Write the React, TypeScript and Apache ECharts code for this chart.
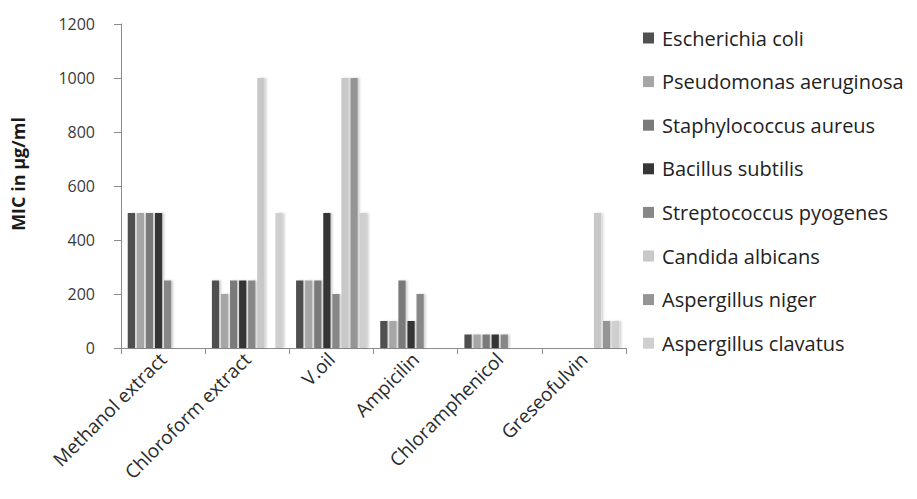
import React, { useEffect, useRef } from "react";
import * as echarts from "echarts";

const categories = [
  "Methanol extract",
  "Chloroform extract",
  "V.oil",
  "Ampicilin",
  "Chloramphenicol",
  "Greseofulvin",
];

const seriesNames = [
  "Escherichia coli",
  "Pseudomonas aeruginosa",
  "Staphylococcus aureus",
  "Bacillus subtilis",
  "Streptococcus pyogenes",
  "Candida albicans",
  "Aspergillus niger",
  "Aspergillus clavatus",
];

const eColi = [500, 250, 250, 100, 50, 0];
const pseudomonas = [500, 200, 250, 100, 50, 0];
const staphylococcus = [500, 250, 250, 250, 50, 0];
const bacillus = [500, 250, 500, 100, 50, 0];
const streptococcus = [250, 250, 200, 200, 50, 0];
const candida = [0, 1000, 1000, 0, 0, 500];
const aspNiger = [0, 0, 1000, 0, 0, 100];
const aspClavatus = [0, 500, 500, 0, 0, 100];

const seriesValues = [
  eColi,
  pseudomonas,
  staphylococcus,
  bacillus,
  streptococcus,
  candida,
  aspNiger,
  aspClavatus,
];

const colors = [
  "#505050",
  "#a6a6a6",
  "#7a7a7a",
  "#363636",
  "#878787",
  "#c8c8c8",
  "#959595",
  "#cfcfcf",
];

const yTicks = { min: 0, max: 1200, interval: 200 };
const yAxisTitle = "MIC in µg/ml";

export default function App() {
  const ref = useRef<HTMLDivElement>(null);

  useEffect(() => {
    if (!ref.current) return;
    const chart = echarts.init(ref.current, undefined, { renderer: "svg" });
    const font = "'Open Sans', 'Noto Sans', sans-serif";
    chart.setOption({
      animation: false,
      backgroundColor: "#ffffff",
      textStyle: { fontFamily: font },
      grid: { left: 121, top: 24, right: 291, bottom: 151, containLabel: false },
      legend: {
        orient: "vertical",
        left: 643,
        top: 28,
        padding: 0,
        itemWidth: 11,
        itemHeight: 11,
        itemGap: 23.6,
        icon: "rect",
        data: seriesNames,
        textStyle: {
          fontFamily: font,
          fontSize: 20,
          color: "#222222",
          lineHeight: 20,
          padding: [0, 0, 0, 3],
        },
      },
      xAxis: {
        type: "category",
        data: categories,
        axisLine: { lineStyle: { color: "#8c8c8c", width: 1 } },
        axisTick: { show: true, length: 6, lineStyle: { color: "#8c8c8c" } },
        axisLabel: {
          rotate: 45,
          fontSize: 19,
          color: "#2b2b2b",
          margin: 8,
          fontFamily: font,
          interval: 0,
        },
      },
      yAxis: {
        type: "value",
        min: yTicks.min,
        max: yTicks.max,
        interval: yTicks.interval,
        name: yAxisTitle,
        nameLocation: "middle",
        nameRotate: 90,
        nameGap: 94,
        nameTextStyle: {
          fontFamily: font,
          fontSize: 18,
          fontWeight: "bold",
          color: "#1a1a1a",
          padding: [0, 0, 0, 24],
        },
        axisLine: { show: true, lineStyle: { color: "#8c8c8c", width: 1 } },
        axisTick: { show: true, length: 7, lineStyle: { color: "#8c8c8c" } },
        splitLine: { show: false },
        axisLabel: {
          fontSize: 16,
          color: "#3a3a3a",
          margin: 26,
          fontFamily: font,
          formatter: (v: number) => String(v),
        },
      },
      series: seriesNames.map((name, i) => ({
        name,
        type: "bar",
        data: seriesValues[i],
        barCategoryGap: "16%",
        barGap: "25%",
        itemStyle: {
          color: colors[i],
          shadowColor: "rgba(0,0,0,0.18)",
          shadowOffsetX: 2,
          shadowOffsetY: 0,
          shadowBlur: 2,
        },
      })),
    });
    return () => chart.dispose();
  }, []);

  return (
    <div
      ref={ref}
      style={{ position: "fixed", left: 0, top: 0, width: 917, height: 499 }}
    />
  );
}
